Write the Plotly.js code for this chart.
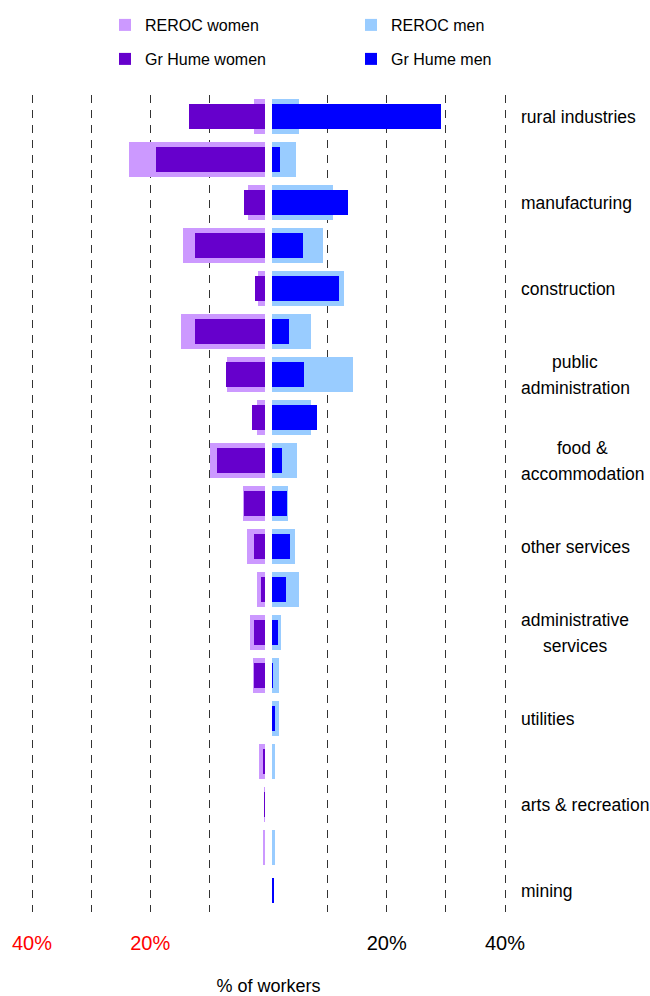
<!DOCTYPE html>
<html>
<head>
<meta charset="utf-8">
<script src="https://cdn.plot.ly/plotly-3.0.1.min.js"></script>
<style>
  html, body { margin: 0; padding: 0; background: #fff; }
  #chart { width: 650px; height: 996px; }
</style>
</head>
<body>
<div id="chart"></div>
<script>
// ---- data (top to bottom) ----
const categories = [
  "rural industries", "health care", "manufacturing", "retail trade",
  "construction", "education", "public administration", "transport",
  "food & accommodation", "professional services", "other services",
  "wholesale trade", "administrative services", "finance & insurance",
  "utilities", "real estate", "arts & recreation", "information media", "mining"
];
// category labels as printed (every other one shown in the reference)
const categoryLabels = [
  "rural industries", "", "manufacturing", "",
  "construction", "", "public<br>administration", "",
  "food &<br>accommodation", "", "other services",
  "", "administrative<br>services", "",
  "utilities", "", "arts & recreation", "", "mining"
];
// % of workers
const rerocWomen = [2.45, 23.6, 3.45, 14.5, 1.8, 14.8, 7.0, 1.95, 9.9, 4.3, 3.65, 1.95, 3.1, 2.6, 0.4, 1.6, 0.7, 0.95, 0.2];
const rerocMen   = [5.15, 4.65, 10.9, 9.2, 12.8, 7.2, 14.3, 7.2, 4.8, 3.3, 4.5, 5.15, 2.1, 1.8, 1.8, 1.1, 0.65, 1.1, 0.45];
const humeWomen  = [13.45, 19.0, 4.15, 12.4, 2.3, 12.4, 7.2, 2.8, 8.7, 4.15, 2.45, 1.3, 2.45, 2.45, 0.3, 0.95, 0.75, 0.4, 0.2];
const humeMen    = [29.2, 1.95, 13.45, 5.85, 11.9, 3.45, 6.0, 8.2, 2.3, 3.1, 3.65, 2.95, 1.6, 0.75, 1.1, 0.4, 0.4, 0.4, 0.95];

const seriesNames = ["REROC women", "REROC men", "Gr Hume women", "Gr Hume men"];
const seriesColors = ["#cc99ff", "#99ccff", "#6600cc", "#0000ff"];

const tickVals = [-40, -30, -20, -10, 10, 20, 30, 40];
const tickText = [
  '<span style="color:#ff0000">40%</span>', '',
  '<span style="color:#ff0000">20%</span>', '', '',
  '20%', '', '40%'
];

const neg = arr => arr.map(v => -v);

const FONT = "'Liberation Sans', Arial, Helvetica, sans-serif";
const PLOT_L = 21, PLOT_W = 495, LABEL_LEFT = 521, LABEL_SIZE = 17.5, LINE_STEP = 26;

const traces = [
  { name: seriesNames[0], x: neg(rerocWomen), y: categories, width: 0.83, marker: { color: seriesColors[0] }, legend: 'legend' },
  { name: seriesNames[1], x: rerocMen, y: categories, width: 0.83, marker: { color: seriesColors[1] }, legend: 'legend3' },
  { name: seriesNames[2], x: neg(humeWomen), y: categories, width: 0.6, marker: { color: seriesColors[2] }, legend: 'legend2' },
  { name: seriesNames[3], x: humeMen, y: categories, width: 0.6, marker: { color: seriesColors[3] }, legend: 'legend4' }
].map(t => Object.assign({ type: 'bar', orientation: 'h', hoverinfo: 'x+y+name' }, t));

// category labels: left-aligned block, lines centred within the block
const ctx = document.createElement('canvas').getContext('2d');
ctx.font = LABEL_SIZE + 'px "Liberation Sans", Arial, sans-serif';
const annotations = [];
categories.forEach((c, i) => {
  if (!categoryLabels[i]) return;
  const lines = categoryLabels[i].split('<br>');
  const w = Math.max(...lines.map(s => ctx.measureText(s).width));
  const cx = (LABEL_LEFT + w / 2 - PLOT_L) / PLOT_W;
  lines.forEach((s, j) => {
    annotations.push({
      xref: 'paper', yref: 'y', x: cx, y: c,
      xanchor: 'center', yanchor: 'middle', align: 'center',
      yshift: ((lines.length - 1) / 2 - j) * LINE_STEP,
      text: s, showarrow: false,
      font: { family: FONT, size: LABEL_SIZE, color: '#000' }
    });
  });
});

const legendCommon = {
  orientation: 'h', xref: 'container', yref: 'container',
  xanchor: 'left', yanchor: 'middle',
  font: { family: FONT, size: 16, color: '#000' },
  bgcolor: 'rgba(0,0,0,0)', borderwidth: 0
};
const LEG_X1 = 105, LEG_X2 = 351, LEG_Y1 = 25, LEG_Y2 = 59;

const layout = {
  width: 650, height: 996,
  margin: { l: PLOT_L, r: 650 - PLOT_L - PLOT_W, t: 95, b: 84 },
  paper_bgcolor: '#fff', plot_bgcolor: '#fff',
  font: { family: FONT, color: '#000' },
  barmode: 'overlay',
  bargap: 0,
  showlegend: true,
  legend:  Object.assign({}, legendCommon, { x: LEG_X1 / 650, y: 1 - LEG_Y1 / 996 }),
  legend2: Object.assign({}, legendCommon, { x: LEG_X1 / 650, y: 1 - LEG_Y2 / 996 }),
  legend3: Object.assign({}, legendCommon, { x: LEG_X2 / 650, y: 1 - LEG_Y1 / 996 }),
  legend4: Object.assign({}, legendCommon, { x: LEG_X2 / 650, y: 1 - LEG_Y2 / 996 }),
  xaxis: {
    range: [-41.86, 41.86],
    tickmode: 'array', tickvals: tickVals, ticktext: tickText,
    showgrid: true, gridcolor: '#333', gridwidth: 1, griddash: '8px,7px',
    zeroline: false, showline: false, ticks: '',
    ticklabelstandoff: 17,
    tickfont: { family: FONT, size: 20, color: '#000' },
    title: { text: '% of workers', font: { family: FONT, size: 18, color: '#000' }, standoff: 39 },
    automargin: false, fixedrange: true
  },
  yaxis: {
    type: 'category', categoryorder: 'array', categoryarray: categories,
    range: [categories.length - 0.5, -0.5],
    showticklabels: false, showgrid: false, zeroline: false, showline: false, ticks: '',
    automargin: false, fixedrange: true
  },
  shapes: [{
    type: 'line', layer: 'above', xref: 'x', yref: 'paper',
    x0: 0, x1: 0, y0: 0, y1: 1,
    line: { color: '#ffffff', width: 7 }
  }],
  annotations: annotations
};

Plotly.newPlot('chart', traces, layout, { displayModeBar: false, staticPlot: true });
</script>
</body>
</html>
